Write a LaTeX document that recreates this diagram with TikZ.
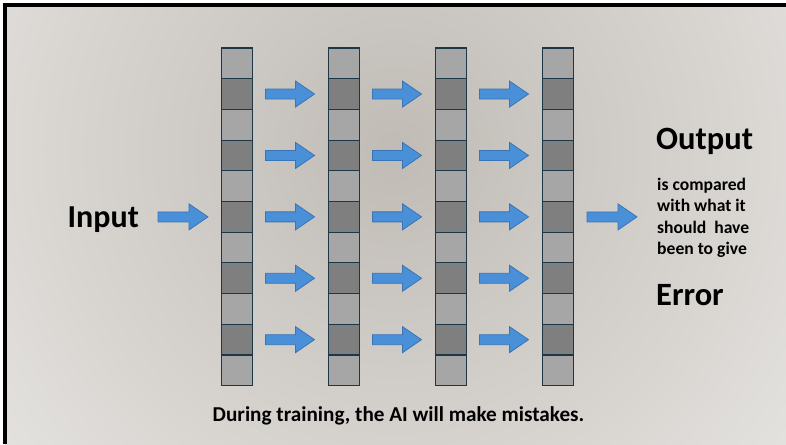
\documentclass[tikz,border=0pt]{standalone}
\usepackage{fontspec}
\setmainfont{Carlito}
\definecolor{bgin}{HTML}{C0BBB5}
\definecolor{bgout}{HTML}{F1F0EE}
\definecolor{celllight}{HTML}{A6A6A6}
\definecolor{celldark}{HTML}{7F7F7F}
\definecolor{celledge}{HTML}{1E3746}
\definecolor{arrowfill}{HTML}{4A90D9}
\definecolor{arrowedge}{HTML}{3A74B4}
\tikzset{
  cellbox/.style={draw=celledge, line width=1.1pt, minimum width=31pt, minimum height=30.7pt, inner sep=0pt, outer sep=0pt},
  lightcell/.style={cellbox, fill=celllight},
  darkcell/.style={cellbox, fill=celldark},
  blockarrow/.style={fill=arrowfill, draw=arrowedge, line width=0.8pt, line join=miter},
  bigtxt/.style={font=\bfseries\fontsize{32.5}{38}\selectfont, inner sep=0pt, anchor=base west},
  smalltxt/.style={font=\bfseries\fontsize{17.6}{21}\selectfont, inner sep=0pt, anchor=base west},
}
% block arrow: #1 = shaft start x, #2 = centre y, #3 = shaft length, #4 = head length
\newcommand{\blockarr}[4]{%
  \pgfmathsetmacro{\bax}{#1}%
  \pgfmathsetmacro{\bay}{#2}%
  \draw[blockarrow] (\bax,\bay-5) -- ++(#3,0) -- ++(0,-8) -- ++(#4,13) -- ++(-#4,13) -- ++(0,-8) -- ++(-#3,0) -- cycle;}
\begin{document}
\begin{tikzpicture}[x=1pt,y=-1pt]
\useasboundingbox (0,0) rectangle (786,444);
\fill[white] (0,0) rectangle (786,444);
\begin{scope}
  \clip (5,5.5) rectangle (786,444);
  \shade[inner color=bgin, outer color=bgout] (395,150) circle (680);
\end{scope}
\draw[black, line width=4pt] (5,444) -- (5,5.5) -- (786,5.5);
% columns of cells
\foreach \k in {0,1,2,3}{
  \foreach \i in {0,...,10}{
    \pgfmathtruncatemacro{\odd}{mod(\i,2)}
    \ifnum\odd=1
      \node[darkcell, anchor=north west] (c-\k-\i) at ({221.5+107*\k},{48+30.7*\i}) {};
    \else
      \node[lightcell, anchor=north west] (c-\k-\i) at ({221.5+107*\k},{48+30.7*\i}) {};
    \fi
  }
}
% arrows between columns
\foreach \k in {0,1,2}{
  \foreach \i in {1,3,5,7,9}{
    \blockarr{265.5+107*\k}{48+30.7*(\i+0.5)}{30}{19}
  }
}
% input and output arrows
\blockarr{158}{216.9}{31}{19}
\blockarr{587}{216.9}{31}{19}
% texts
\node[bigtxt, font=\bfseries\fontsize{32}{38}\selectfont] (input) at (67.5,227) {Input};
\node[bigtxt] (output) at (656,149.3) {Output};
\node[smalltxt] (l1) at (657,190) {is compared};
\node[smalltxt] (l2) at (657,211.5) {with what it};
\node[smalltxt] (l3) at (657,233) {should\ \ have};
\node[smalltxt] (l4) at (657,254.3) {been to give};
\node[bigtxt] (error) at (656,305.3) {Error};
\node[font=\bfseries\fontsize{21.2}{25}\selectfont, inner sep=0pt, anchor=base] (note) at (398.5,421.7) {During training, the AI will make mistakes.};
\end{tikzpicture}
\end{document}
